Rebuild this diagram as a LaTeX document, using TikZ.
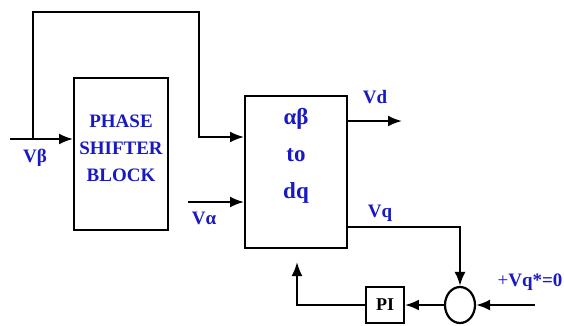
\documentclass[tikz,border=0pt]{standalone}
\usepackage{fontspec}
\setmainfont{Liberation Serif}
\definecolor{labelblue}{RGB}{25,25,195}
\usetikzlibrary{arrows.meta,positioning,shapes.geometric}

\begin{document}
\begin{tikzpicture}[x=1pt,y=-1pt,
      arr/.style={-{Latex[length=14pt,width=11pt]}, line width=2.2pt},
      wire/.style={line width=2.2pt},
      blockbox/.style={draw, line width=1.9pt, minimum width=#1, inner sep=0pt},
      lbl/.style={text=labelblue, font=\bfseries\fontsize{19}{22}\selectfont, inner sep=0pt}
    ]
    \useasboundingbox (0,0) rectangle (564,325);

    \node[blockbox=94pt, minimum height=152pt] (psb) at (121,154) {};
    \node[lbl, align=center, font=\bfseries\fontsize{19}{27}\selectfont] (psbtxt) at (121,148)
      {PHASE\\SHIFTER\\BLOCK};
    \node[blockbox=102pt, minimum height=152pt] (abdq) at (296,172) {};
    \node[lbl, align=center, font=\bfseries\fontsize{23}{37}\selectfont] (abdqtxt) at (296,156)
      {αβ\\to\\dq};
    \node[blockbox=38pt, minimum height=36pt, font=\bfseries\fontsize{18}{20}\selectfont] (pi) at (385,305) {PI};
    \node[draw, ellipse, line width=2.2pt, minimum width=30pt, minimum height=36pt, inner sep=0pt] (sum) at (460,305) {};

    \coordinate (vbin) at (10,139);
    \coordinate (split) at (33,139);
    \coordinate (vain) at (188,202);
    \coordinate (vdout) at (402,121);
    \coordinate (refin) at (535,305);
    \coordinate (fbtip) at (297,262);

    \draw[wire] (vbin) -- (split);
    \draw[arr] (split) -- (split -| psb.west);
    \draw[arr] (split) -- (33,12) -- (199,12) -- (199,137) -- (abdq.west |- 0,137);
    \draw[arr] (vain) -- (vain -| abdq.west);
    \draw[arr] (abdq.east |- vdout) -- (vdout);
    \draw[arr] (abdq.east |- 0,227) -| (sum.north);
    \draw[arr] (refin) -- (sum.east);
    \draw[arr] (sum.west) -- (pi.east);
    \draw[arr] (pi.west) -| (fbtip);

    \node[lbl] (vblbl) at (35,158) {Vβ};
    \node[lbl] (valbl) at (204,218) {Vα};
    \node[lbl] (vdlbl) at (375,97) {Vd};
    \node[lbl] (vqlbl) at (380,213) {Vq};
    \node[lbl] (reflbl) at (530,282) {\mdseries+\bfseries Vq*=0};
\end{tikzpicture}
\end{document}
